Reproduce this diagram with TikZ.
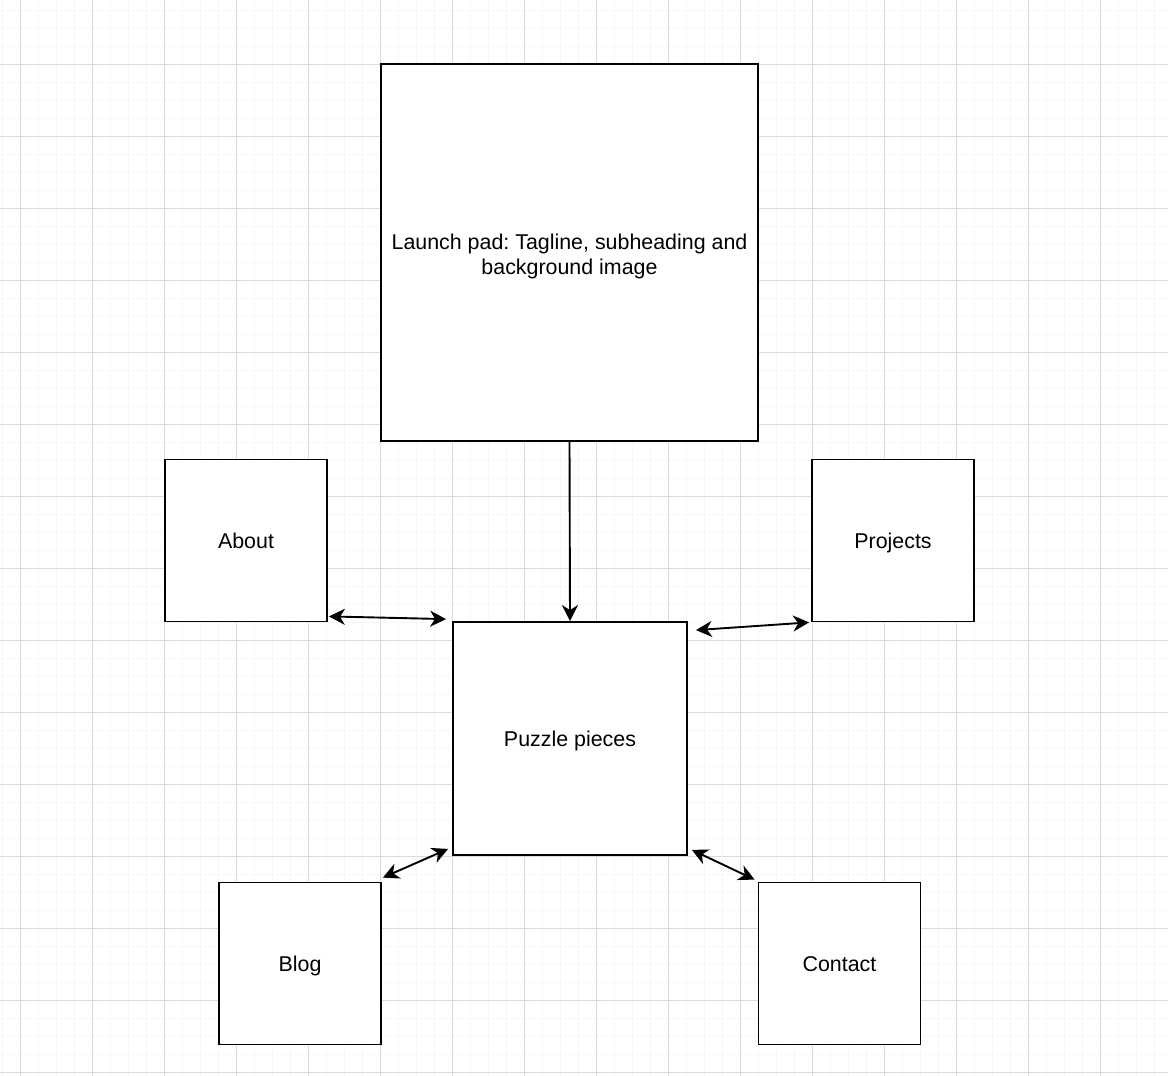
\documentclass[tikz,border=0pt]{standalone}
\usepackage{fontspec}
\setmainfont{Liberation Sans}
\usetikzlibrary{arrows.meta}
\frenchspacing

\begin{document}
\begin{tikzpicture}[x=1pt, y=-1pt,
	page/.style={draw=black, line width=1.8pt, fill=white, inner sep=0pt, font=\fontsize{21.4}{25.7}\selectfont},
	tile/.style={page, text height=19pt, text depth=2.5pt},
	link/.style={line width=1.9pt, {Stealth[length=16pt,width=16pt,inset=5pt]}-{Stealth[length=16pt,width=16pt,inset=5pt]}},
	feed/.style={line width=1.9pt, -{Stealth[length=16pt,width=16pt,inset=5pt]}}]

	\useasboundingbox[fill=white] (0,0) rectangle (1168,1076);

	\foreach \x in {2,20,...,1166}
		\draw[line width=1pt, black!3] (\x,0) -- (\x,1076);
	\foreach \y in {10,28,...,1076}
		\draw[line width=1pt, black!3] (0,\y) -- (1168,\y);
	\foreach \x in {20,92,...,1166}
		\draw[line width=1pt, black!14] (\x,0) -- (\x,1076);
	\foreach \y in {64,136,...,1076}
		\draw[line width=1pt, black!14] (0,\y) -- (1168,\y);


	\node[page, minimum width=377pt, minimum height=377pt, align=center] (launch) at (569.5,252.5) {\rule{0pt}{23.4pt}Launch pad: Tagline, subheading and\\background image};
	\node[tile, minimum width=162pt, minimum height=162pt] (about) at (246,540.5) {About};
	\node[tile, minimum width=162pt, minimum height=162pt] (projects) at (893,540.5) {Projects};
	\node[tile, minimum width=234pt, minimum height=233pt] (puzzle) at (570,738.5) {Puzzle pieces};
	\node[tile, minimum width=162pt, minimum height=162pt] (blog) at (300,963.5) {Blog};
	\node[tile, minimum width=162pt, minimum height=162pt] (contact) at (839.5,963.5) {Contact};


	\draw[feed] (launch.south) -- (puzzle.north);
	\draw[link] ([shift={(1,-6)}]about.south east) -- ([shift={(-6,-2)}]puzzle.north west);
	\draw[link] ([shift={(-2,0)}]projects.south west) -- ([shift={(8,9)}]puzzle.north east);
	\draw[link] ([shift={(1,-4)}]blog.north east) -- ([shift={(-4,-7)}]puzzle.south west);
	\draw[link] ([shift={(4,-6)}]puzzle.south east) -- ([shift={(-3,-2)}]contact.north west);


\end{tikzpicture}
\end{document}
